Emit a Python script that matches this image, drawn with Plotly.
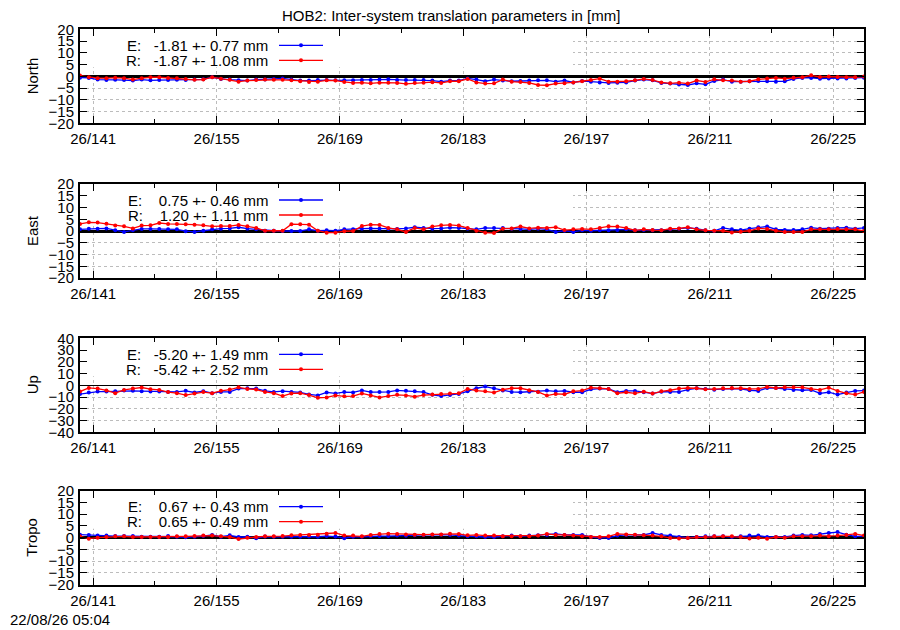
import datetime as dt
import plotly.graph_objects as go

# daily solutions, first epoch 2026 doy 139 at noon
FIRST_EPOCH = dt.datetime(2026, 5, 19, 12)
N_DAYS = 90
EPOCHS = [FIRST_EPOCH + dt.timedelta(days=i) for i in range(N_DAYS)]

NORTH_E = [-0.6, -0.7, -1.4, -1.6, -1.5, -1.6, -1.8, -1.4, -1.7, -1.6,
           -1.6, -1.5, -1.6, -1.4, -1.3, -0.4, -1.1, -1.4, -1.7, -1.8,
           -1.4, -1.4, -1.1, -0.9, -1.4, -1.8, -1.8, -1.6, -1.6, -1.7,
           -1.7, -1.7, -1.6, -1.6, -1.4, -1.3, -1.6, -1.6, -1.6, -1.6,
           -1.8, -2.3,
           -1.8, -1.8, -0.9, -1.4, -2.1, -1.4, -1.8, -2.1, -2.0, -1.8,
           -1.7, -1.7, -2.3, -1.8, -2.6, -2.0, -2.3, -2.6, -2.8, -2.7,
           -2.6, -1.8, -1.4, -1.7, -2.8, -3.1, -3.5, -3.7, -3.0, -3.4,
           -2.0, -1.4, -2.3, -2.3, -2.1, -2.0, -2.1, -2.3, -2.1, -1.1,
           -0.7, -0.7, -1.0, -0.9, -0.9, -0.9, -0.7, -0.6]
NORTH_R = [0.3, -0.4, -0.8, -0.8, -0.6, -0.8, -1.4, -0.8, -0.4, -0.4,
           -0.7, -0.8, -1.1, -1.5, -1.4, -0.4, -1.0, -1.5, -2.3, -1.8,
           -1.6, -1.4, -1.5, -1.5, -1.7, -2.1, -2.4, -2.3, -1.7, -1.8,
           -2.4, -2.8, -2.7, -3.0, -2.7, -2.7, -2.8, -3.2, -2.9, -2.7,
           -2.5, -2.8,
           -2.1, -2.1, -1.1, -2.6, -3.1, -3.0, -1.4, -2.3, -2.4, -2.8,
           -3.7, -3.8, -3.1, -3.0, -2.6, -2.1, -1.6, -1.0, -2.3, -2.3,
           -2.1, -1.7, -1.1, -1.6, -2.6, -3.0, -2.7, -3.1, -1.8, -2.4,
           -1.3, -1.7, -1.8, -2.3, -2.1, -1.3, -0.9, -0.7, -1.0, -0.6,
           -0.4, 0.4, -0.3, -0.1, -0.3, -0.4, -0.4, -0.1]

EAST_E = [0.7, 1.0, 1.0, 1.1, 0.3, -0.4, 0.3, 0.9, 0.9, 0.9,
          0.7, 0.7, -0.1, -0.4, 0.1, 0.7, 1.0, 1.1, 1.6, 1.0,
          0.7, 0.1, 0.1, 0.0, 0.0, 0.0, 0.7, 0.1, 0.3, 0.1,
          0.7, 0.7, 1.0, 1.1, 1.0, 0.9, 0.9, 1.1, 1.6, 1.3,
          1.0, 1.1,
          1.4, 1.3, 1.0, 0.7, 1.3, 1.3, 1.3, 1.0, 0.9, 0.7,
          1.0, 0.7, -0.4, 0.1, -0.4, 0.3, 0.1, 0.3, 0.3, 0.4,
          0.7, 0.3, 0.4, 0.3, 0.3, 0.7, 1.0, 1.3, 1.0, 0.3,
          0.1, 1.3, 0.7, 0.4, 1.0, 1.6, 1.9, 0.7, 0.4, 0.4,
          0.7, 1.4, 1.0, 1.0, 1.3, 1.4, 1.0, 1.3]
EAST_R = [3.0, 3.7, 3.6, 3.1, 2.3, 2.0, 1.1, 2.3, 2.4, 3.4,
          3.0, 3.0, 2.9, 2.7, 2.4, 2.0, 2.1, 2.1, 2.6, 2.0,
          1.3, 0.1, 0.1, 0.1, 2.9, 2.9, 2.7, 0.1, -0.7, -0.7,
          -0.1, 0.0, 2.1, 2.7, 2.6, 1.3, 0.7, -0.4, 1.3, 0.7,
          1.9, 2.4,
          2.6, 2.3, 1.3, 0.1, -0.7, -0.9, 1.0, 1.1, 1.9, 1.1,
          1.4, 1.3, 1.6, 0.4, 0.7, 0.9, 0.7, 1.3, 2.0, 1.9,
          1.3, 0.3, 0.7, 0.4, 0.3, 1.0, 1.1, 1.6, 0.7, 0.3,
          0.1, 0.1, -0.6, -0.3, 0.1, 1.1, 0.9, 0.1, -0.4, -0.4,
          -0.4, 0.7, 0.7, 0.7, 0.9, 0.7, 0.7, 0.0]

UP_E = [-7.5, -6.1, -5.3, -5.3, -5.0, -4.4, -4.7, -5.0, -5.3, -5.3,
        -5.8, -5.6, -4.7, -6.1, -5.0, -6.7, -5.6, -5.6, -2.8, -2.5,
        -2.8, -4.7, -5.6, -5.0, -5.6, -6.1, -7.8, -8.6, -6.1, -6.9,
        -5.8, -6.1, -4.4, -5.8, -5.8, -5.6, -4.4, -4.7, -5.0, -5.8,
        -8.1, -9.2,
        -8.2, -7.3, -5.1, -2.5, -1.1, -2.5, -4.5, -5.6, -5.9, -5.4,
        -5.4, -4.5, -5.1, -4.8, -5.9, -5.9, -3.4, -2.8, -3.1, -5.9,
        -4.8, -4.8, -5.9, -7.0, -5.4, -5.6, -5.6, -3.7, -2.5, -3.1,
        -3.7, -3.1, -2.8, -3.1, -4.2, -4.8, -2.3, -2.3, -3.1, -3.9,
        -4.2, -3.9, -6.8, -5.9, -7.9, -6.2, -4.8, -4.5]
UP_R = [-5.3, -2.2, -2.8, -4.4, -6.7, -3.9, -2.8, -1.9, -3.3, -3.9,
        -5.8, -6.7, -8.3, -6.9, -5.8, -6.7, -4.7, -3.6, -1.7, -3.1,
        -3.6, -5.6, -6.7, -9.2, -6.9, -6.7, -8.3, -10.6, -10.3, -8.6,
        -9.4, -9.2, -6.9, -8.6, -10.3, -9.2, -8.1, -8.6, -9.7, -8.3,
        -7.8, -7.5,
        -7.0, -6.8, -3.1, -4.5, -5.1, -6.2, -3.7, -2.5, -2.5, -4.2,
        -5.6, -8.7, -7.3, -7.6, -5.1, -4.5, -2.0, -2.5, -3.1, -6.8,
        -5.9, -6.8, -5.4, -7.0, -5.1, -4.2, -2.8, -2.3, -2.5, -3.4,
        -3.1, -2.5, -2.3, -2.5, -3.1, -3.1, -1.4, -2.3, -1.7, -1.7,
        -1.7, -3.1, -3.9, -2.0, -4.8, -6.8, -7.9, -5.6]

TROPO_E = [1.3, 1.1, 0.9, 0.9, 0.7, 0.7, 0.7, 0.4, 0.4, 0.4,
           0.7, 0.4, 0.2, 0.4, 0.7, 1.2, 0.4, 1.0, 0.3, 0.4,
           -0.2, 0.5, 0.4, 0.4, 0.4, 0.4, 0.5, 0.4, 0.7, 0.5,
           -0.2, 0.4, 0.4, 0.7, 0.7, 0.7, 0.9, 0.8, 1.0, 1.2,
           1.3, 1.3,
           1.2, 0.9, 0.6, 0.6, 0.3, 0.3, 0.6, 0.9, 0.6, 0.9,
           1.0, 1.2, 1.6, 1.2, 1.2, 1.2, 0.3, -0.1, -0.1, 0.9,
           1.2, 1.2, 1.2, 2.0, 1.2, 0.9, 0.3, 0.0, 0.3, 0.6,
           0.6, 0.6, 0.3, 0.6, 0.9, 0.9, 0.3, 0.3, 0.3, 0.9,
           1.2, 1.0, 1.6, 2.0, 2.4, 1.3, 0.6, 0.6]
TROPO_R = [0.6, -0.4, 0.0, 0.3, 0.6, 0.6, 0.3, 0.3, 0.3, 0.3,
           0.3, 0.6, 0.6, 0.7, 0.9, 0.9, 0.6, 0.3, -0.6, 0.0,
           0.3, 0.6, 0.6, 0.7, 1.0, 1.2, 1.2, 1.3, 1.7, 2.0,
           0.9, 0.9, 0.6, 1.2, 1.6, 1.7, 1.6, 1.4, 1.3, 1.3,
           1.4, 1.4,
           1.7, 1.6, 1.0, 1.2, 0.9, 0.9, 0.6, 0.6, 0.6, 0.6,
           0.9, 1.6, 1.2, 1.2, 0.9, 0.6, 0.3, 0.3, 0.6, 1.6,
           1.4, 1.3, 1.0, 0.9, 0.6, -0.1, -0.3, -0.1, 0.3, 0.3,
           0.6, 0.6, 0.6, 0.3, -0.3, 0.0, -0.4, 0.3, 0.0, 0.6,
           0.6, 0.6, 0.9, 0.6, 0.9, 1.2, 1.6, 0.9]

PANEL_NAMES = ['North', 'East', 'Up', 'Tropo']
PANEL_LIMITS = [20, 20, 40, 20]
PANEL_STEPS = [5, 5, 10, 5]
SERIES_E = [NORTH_E, EAST_E, UP_E, TROPO_E]
SERIES_R = [NORTH_R, EAST_R, UP_R, TROPO_R]
# key statistics as printed in the picture (mean, rms)
STATS_E = [(-1.81, 0.77), (0.75, 0.46), (-5.20, 1.49), (0.67, 0.43)]
STATS_R = [(-1.87, 1.08), (1.20, 1.11), (-5.42, 2.52), (0.65, 0.49)]

TITLE = 'HOB2: Inter-system translation parameters in [mm]'
STAMP = '22/08/26 05:04'

# the page body has an 8px margin: lay out in screen pixels, shift by PAD
PAD = 8
W, H = 900 - PAD, 630 - PAD
FONT = 'Liberation Sans, Arial, sans-serif'
BLUE = '#0000ff'
RED = '#ff0000'
GRID = '#bcbcbc'
DAY_MS = 86400000

# panel frames in screen pixels
PLOT_L, PLOT_R = 80, 864
PANEL_TOPS = [29.3, 184.0, 338.3, 490.7]
PANEL_H = 94.0
ZERO_W = [2.5, 2.5, 1.2, 2.5]
KEY_RIGHT_PX = 573   # right edge of the opaque key box
KEY_DEPTH_PX = 38    # height of the opaque key box


def fx(px):
    return (px - PAD) / W


def fy(py):
    return 1 - (py - PAD) / H


fig = go.Figure()
shapes = []
annotations = []

span_days = (EPOCHS[-1] - EPOCHS[0]).total_seconds() / 86400.0

for k in range(4):
    sfx = '' if k == 0 else str(k + 1)
    xa, ya = 'x' + sfx, 'y' + sfx
    top = PANEL_TOPS[k]
    bot = top + PANEL_H
    lim = PANEL_LIMITS[k]

    fig.add_trace(go.Scatter(x=EPOCHS, y=SERIES_E[k], xaxis=xa, yaxis=ya,
                             mode='lines+markers', line=dict(color=BLUE, width=1.3),
                             marker=dict(color=BLUE, size=4), showlegend=False))
    fig.add_trace(go.Scatter(x=EPOCHS, y=SERIES_R[k], xaxis=xa, yaxis=ya,
                             mode='lines+markers', line=dict(color=RED, width=1.3),
                             marker=dict(color=RED, size=4), showlegend=False))

    fig.layout['xaxis' + sfx] = dict(
        domain=[fx(PLOT_L), fx(PLOT_R)], anchor=ya, type='date',
        range=[EPOCHS[0], EPOCHS[-1]], automargin=False,
        tick0='2026-05-21', dtick=14 * DAY_MS, tickformat='%y/%j',
        ticks='inside', ticklen=7, tickwidth=1, tickcolor='black',
        mirror='allticks', showline=True, linewidth=2, linecolor='black',
        showgrid=True, gridcolor=GRID, griddash='dot', gridwidth=1,
        minor=dict(tick0='2026-05-21', dtick=7 * DAY_MS, ticks='inside',
                   ticklen=4, tickcolor='black', showgrid=False),
        tickfont=dict(family=FONT, size=15, color='black'),
        ticklabelstandoff=1, zeroline=False)
    fig.layout['yaxis' + sfx] = dict(
        domain=[fy(bot), fy(top)], anchor=xa, range=[-lim, lim], automargin=False,
        tick0=0, dtick=PANEL_STEPS[k],
        ticks='inside', ticklen=7, tickwidth=1, tickcolor='black',
        mirror='allticks', showline=True, linewidth=2, linecolor='black',
        showgrid=True, gridcolor=GRID, griddash='dot', gridwidth=1,
        zeroline=True, zerolinecolor='black', zerolinewidth=ZERO_W[k],
        tickfont=dict(family=FONT, size=15, color='black'),
        ticklabelstandoff=1)

    # opaque key area (hides the grid behind it, as gnuplot does)
    key_x1 = EPOCHS[0] + dt.timedelta(
        days=span_days * (KEY_RIGHT_PX - PLOT_L) / (PLOT_R - PLOT_L))
    key_y0 = lim - 2 * lim * KEY_DEPTH_PX / PANEL_H
    shapes.append(dict(type='rect', xref=xa, yref=ya, layer='between',
                       x0=EPOCHS[0], x1=key_x1, y0=key_y0, y1=lim,
                       fillcolor='white', line=dict(width=0)))

    # key entries: text right-justified, sample to the right
    for j, (lab, st, col) in enumerate([('E', STATS_E[k], BLUE), ('R', STATS_R[k], RED)]):
        yrow = top + 16 + 15 * j
        txt = f'{lab}:  {st[0]:6.2f} +- {st[1]:4.2f} mm'.replace(' ', '\u00a0')
        annotations.append(dict(text=txt, xref='paper', yref='paper',
                                x=fx(270), y=fy(yrow), xanchor='right', yanchor='middle',
                                showarrow=False, font=dict(family=FONT, size=15, color='black')))
        shapes.append(dict(type='line', xref='paper', yref='paper',
                           x0=fx(279), x1=fx(323), y0=fy(yrow), y1=fy(yrow),
                           line=dict(color=col, width=1.3)))
        shapes.append(dict(type='circle', xref='paper', yref='paper',
                           x0=fx(299), x1=fx(303), y0=fy(yrow + 2), y1=fy(yrow - 2),
                           fillcolor=col, line=dict(color=col, width=0)))

    annotations.append(dict(text=PANEL_NAMES[k], xref='paper', yref='paper',
                            x=fx(32), y=fy(top + PANEL_H / 2), textangle=-90,
                            xanchor='center', yanchor='middle', showarrow=False,
                            font=dict(family=FONT, size=15, color='black')))

annotations.append(dict(text=TITLE, xref='paper', yref='paper', x=fx(451), y=fy(15.5),
                        xanchor='center', yanchor='middle', showarrow=False,
                        font=dict(family=FONT, size=15, color='black')))
annotations.append(dict(text=STAMP, xref='paper', yref='paper', x=fx(8), y=fy(630),
                        xanchor='left', yanchor='bottom', showarrow=False,
                        font=dict(family=FONT, size=15, color='black')))

fig.update_layout(width=W, height=H, autosize=False,
                  margin=dict(l=0, r=0, t=0, b=0, autoexpand=False),
                  paper_bgcolor='white', plot_bgcolor='white',
                  shapes=shapes, annotations=annotations,
                  font=dict(family=FONT, size=15, color='black'))

fig.write_html('out.html')
